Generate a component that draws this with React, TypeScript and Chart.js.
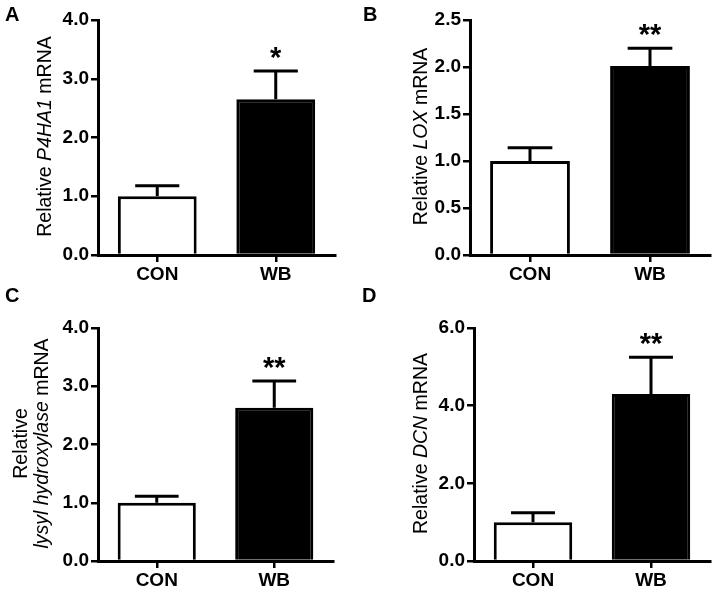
import React, { useEffect, useRef } from "react";
import { Chart, registerables } from "chart.js";

Chart.register(...registerables);

const categories = ["CON", "WB"];
const barFills = ["#ffffff", "#000000"];

const p4ha1Means = [1.0, 2.65];
const p4ha1Errors = [0.18, 0.48];
const p4ha1Sig = ["", "*"];
const p4ha1Ticks = [0, 1, 2, 3, 4];

const loxMeans = [1.0, 2.01];
const loxErrors = [0.14, 0.19];
const loxSig = ["", "**"];
const loxTicks = [0, 0.5, 1, 1.5, 2, 2.5];

const lhMeans = [1.0, 2.63];
const lhErrors = [0.11, 0.46];
const lhSig = ["", "**"];
const lhTicks = [0, 1, 2, 3, 4];

const dcnMeans = [1.0, 4.3];
const dcnErrors = [0.24, 0.95];
const dcnSig = ["", "**"];
const dcnTicks = [0, 2, 4, 6];

const FONT = '"Liberation Sans", Arial, Helvetica, sans-serif';
const W = 714;
const H = 593;

type Seg = { t: string; i?: boolean };

type Panel = {
  letter: string;
  letterPos: [number, number];
  means: number[];
  errors: number[];
  sig: string[];
  ticks: number[];
  title: Seg[][];
  titleX: number[];
  area: { left: number; top: number; right: number; bottom: number };
};

const panels: Panel[] = [
  {
    letter: "A",
    letterPos: [5, 21],
    means: p4ha1Means,
    errors: p4ha1Errors,
    sig: p4ha1Sig,
    ticks: p4ha1Ticks,
    title: [[{ t: "Relative " }, { t: "P4HA1", i: true }, { t: " mRNA" }]],
    titleX: [51],
    area: { left: 98, top: 20, right: 335, bottom: 255 },
  },
  {
    letter: "B",
    letterPos: [363, 21],
    means: loxMeans,
    errors: loxErrors,
    sig: loxSig,
    ticks: loxTicks,
    title: [[{ t: "Relative " }, { t: "LOX", i: true }, { t: " mRNA" }]],
    titleX: [427],
    area: { left: 470, top: 20, right: 710, bottom: 255 },
  },
  {
    letter: "C",
    letterPos: [5, 302],
    means: lhMeans,
    errors: lhErrors,
    sig: lhSig,
    ticks: lhTicks,
    title: [
      [{ t: "Relative" }],
      [{ t: "lysyl hydroxylase", i: true }, { t: " mRNA" }],
    ],
    titleX: [27, 48],
    area: { left: 98, top: 328, right: 333, bottom: 561 },
  },
  {
    letter: "D",
    letterPos: [362, 302],
    means: dcnMeans,
    errors: dcnErrors,
    sig: dcnSig,
    ticks: dcnTicks,
    title: [[{ t: "Relative " }, { t: "DCN", i: true }, { t: " mRNA" }]],
    titleX: [427],
    area: { left: 474, top: 328, right: 710, bottom: 561 },
  },
];

function makeConfig(p: Panel): any {
  const yMax = p.ticks[p.ticks.length - 1];
  const yStep = p.ticks[1] - p.ticks[0];
  const overlay = {
    id: "overlay" + p.letter,
    afterDatasetsDraw(chart: any) {
      const ctx = chart.ctx as CanvasRenderingContext2D;
      const meta = chart.getDatasetMeta(0);
      const yScale = chart.scales.y;
      ctx.save();
      meta.data.forEach((bar: any, i: number) => {
        const top = yScale.getPixelForValue(p.means[i]);
        const errY = yScale.getPixelForValue(p.means[i] + p.errors[i]);
        const capHalf = bar.width * 0.28;
        ctx.strokeStyle = "#000";
        ctx.lineWidth = 3;
        ctx.lineCap = "butt";
        ctx.beginPath();
        ctx.moveTo(bar.x, top);
        ctx.lineTo(bar.x, errY);
        ctx.moveTo(bar.x - capHalf, errY);
        ctx.lineTo(bar.x + capHalf, errY);
        ctx.stroke();
        if (p.sig[i]) {
          const fs = 29;
          ctx.font = `bold ${fs}px ${FONT}`;
          ctx.fillStyle = "#000";
          ctx.textAlign = "center";
          ctx.textBaseline = "alphabetic";
          ctx.fillText(p.sig[i], bar.x, errY - 20 + 0.55 * fs);
        }
      });
      ctx.restore();
    },
    afterDraw(chart: any) {
      const ctx = chart.ctx as CanvasRenderingContext2D;
      const area = chart.chartArea;
      const yc = (area.top + area.bottom) / 2 - 1;
      const size = 19.5;
      ctx.save();
      ctx.fillStyle = "#000";
      p.title.forEach((line, li) => {
        const widths = line.map((s) => {
          ctx.font = `${s.i ? "italic " : ""}${size}px ${FONT}`;
          return ctx.measureText(s.t).width;
        });
        const total = widths.reduce((a, b) => a + b, 0);
        ctx.save();
        ctx.translate(p.titleX[li], yc);
        ctx.rotate(-Math.PI / 2);
        ctx.textAlign = "left";
        ctx.textBaseline = "alphabetic";
        let cx = -total / 2;
        line.forEach((s, si) => {
          ctx.font = `${s.i ? "italic " : ""}${size}px ${FONT}`;
          ctx.fillText(s.t, cx, 0);
          cx += widths[si];
        });
        ctx.restore();
      });
      ctx.font = `bold 20px ${FONT}`;
      ctx.textAlign = "left";
      ctx.textBaseline = "alphabetic";
      ctx.fillText(p.letter, p.letterPos[0], p.letterPos[1]);
      ctx.restore();
    },
  };

  return {
    type: "bar",
    data: {
      labels: categories,
      datasets: [
        {
          data: p.means,
          backgroundColor: barFills,
          borderColor: "#000",
          borderWidth: 3,
          borderSkipped: "start",
          barPercentage: 0.665,
          categoryPercentage: 1,
        },
      ],
    },
    options: {
      responsive: false,
      animation: false,
      devicePixelRatio: 1,
      events: [],
      layout: {
        padding: {
          left: 0,
          top: p.area.top,
          right: W - p.area.right,
          bottom: 0,
        },
      },
      plugins: {
        legend: { display: false },
        tooltip: { enabled: false },
        title: { display: false },
      },
      scales: {
        x: {
          type: "category",
          offset: true,
          afterFit(scale: any) {
            scale.height = H - p.area.bottom;
          },
          grid: {
            display: true,
            offset: false,
            drawOnChartArea: false,
            drawTicks: true,
            tickLength: 7,
            color: "#000",
            lineWidth: 2.5,
          },
          border: { display: true, color: "#000", width: 3 },
          ticks: {
            color: "#000",
            padding: 1,
            font: { family: FONT, size: 19, weight: "bold" },
          },
        },
        y: {
          min: 0,
          max: yMax,
          afterFit(scale: any) {
            scale.width = p.area.left;
          },
          afterBuildTicks(scale: any) {
            scale.ticks = p.ticks.map((v) => ({ value: v }));
          },
          grid: {
            display: true,
            drawOnChartArea: false,
            drawTicks: true,
            tickLength: 7,
            color: "#000",
            lineWidth: 2.5,
          },
          border: { display: true, color: "#000", width: 3 },
          ticks: {
            stepSize: yStep,
            color: "#000",
            padding: 2,
            font: { family: FONT, size: 19, weight: "bold" },
            callback: (v: any) => Number(v).toFixed(1),
          },
        },
      },
    },
    plugins: [overlay],
  };
}

function PanelCanvas({ panel }: { panel: Panel }) {
  const ref = useRef<HTMLCanvasElement | null>(null);
  useEffect(() => {
    if (!ref.current) return;
    const chart = new Chart(ref.current, makeConfig(panel));
    return () => chart.destroy();
  }, [panel]);
  return (
    <canvas
      ref={ref}
      width={W}
      height={H}
      style={{ position: "absolute", left: 0, top: 0, width: W, height: H }}
    />
  );
}

export default function App() {
  return (
    <div
      style={{
        position: "absolute",
        left: 0,
        top: 0,
        width: W,
        height: H,
        background: "#fff",
        overflow: "hidden",
      }}
    >
      {panels.map((p) => (
        <PanelCanvas key={p.letter} panel={p} />
      ))}
    </div>
  );
}
